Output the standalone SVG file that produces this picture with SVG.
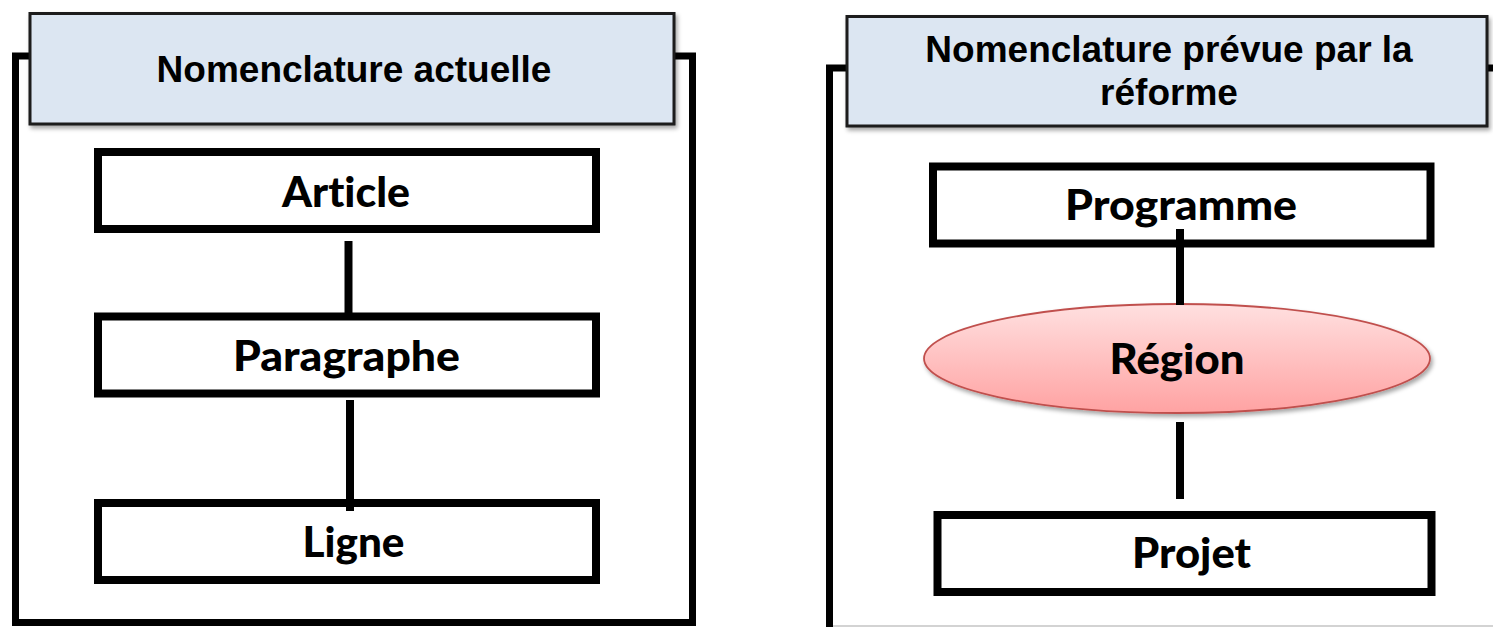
<svg xmlns="http://www.w3.org/2000/svg" width="1493" height="627" viewBox="0 0 1493 627">
  <defs>
    <filter id="shadow" x="-10%" y="-20%" width="120%" height="150%">
      <feDropShadow dx="2" dy="3" stdDeviation="2" flood-color="#000" flood-opacity="0.35"/>
    </filter>
    <linearGradient id="regionFill" x1="0" y1="0" x2="0" y2="1">
      <stop offset="0" stop-color="#ffe0e0"/>
      <stop offset="1" stop-color="#ffa2a2"/>
    </linearGradient>
    <style>
      .frame { fill: #fff; stroke: #000; stroke-width: 7; }
      .header { fill: #dce6f2; stroke: #1a1a1a; stroke-width: 3; filter: url(#shadow); }
      .header-text { font-family: "Liberation Sans", Arial, sans-serif; font-weight: 700; font-size: 37px; fill: #000; text-anchor: middle; }
      .box { fill: #fff; stroke: #000; stroke-width: 8; }
      .label { font-family: Lato, "Open Sans", sans-serif; font-weight: 900; font-size: 42px; fill: #000; text-anchor: middle; font-variant-ligatures: none; font-feature-settings: "liga" 0; }
      .link { stroke: #000; stroke-width: 8; fill: none; }
    </style>
  </defs>

  <rect width="1493" height="627" fill="#fff"/>

  <!-- Current nomenclature panel -->
  <g id="panel-actuelle">
    <rect class="frame" x="15.5" y="56" width="677" height="566.5"/>
    <rect class="header" x="30" y="13.5" width="644" height="110.5"/>
    <text class="header-text" x="354" y="81.5">Nomenclature actuelle</text>
  </g>

  <!-- Planned nomenclature panel (frame runs past the right and bottom edges) -->
  <g id="panel-reforme">
    <rect class="frame" x="829.5" y="68" width="720" height="600"/>
    <line x1="833" y1="626" x2="1493" y2="626" stroke="#c4c4c4" stroke-width="1.5"/>
    <rect class="header" x="847" y="16.5" width="640" height="109.5"/>
    <text class="header-text" x="1169" y="62">Nomenclature prévue par la</text>
    <text class="header-text" x="1169" y="105">réforme</text>
  </g>

  <g id="node-article">
    <rect class="box" x="98" y="152" width="498" height="77"/>
    <text class="label" x="346" y="207" textLength="128" lengthAdjust="spacingAndGlyphs">Article</text>
  </g>

  <g id="node-paragraphe">
    <rect class="box" x="98" y="316.5" width="498" height="77"/>
    <text class="label" x="346.5" y="370.5" textLength="227" lengthAdjust="spacingAndGlyphs">Paragraphe</text>
  </g>

  <g id="node-ligne">
    <rect class="box" x="98" y="503" width="498" height="77"/>
    <text class="label" x="353.5" y="557" textLength="102" lengthAdjust="spacingAndGlyphs">Ligne</text>
  </g>

  <g id="node-programme">
    <rect class="box" x="933" y="166.5" width="497.5" height="77"/>
    <text class="label" x="1181" y="220" textLength="232" lengthAdjust="spacingAndGlyphs">Programme</text>
  </g>

  <g id="node-region">
    <ellipse cx="1177" cy="358.5" rx="253" ry="54.5" fill="url(#regionFill)" stroke="#c0504d" stroke-width="1.8" filter="url(#shadow)"/>
    <text class="label" x="1177" y="374" textLength="135" lengthAdjust="spacingAndGlyphs">Région</text>
  </g>

  <g id="node-projet">
    <rect class="box" x="937.5" y="515" width="494" height="77"/>
    <text class="label" x="1191.5" y="568" textLength="119" lengthAdjust="spacingAndGlyphs">Projet</text>
  </g>

  <!-- Hierarchy links -->
  <g id="connectors">
    <line class="link" x1="348.5" y1="241" x2="348.5" y2="313"/>
    <line class="link" x1="350" y1="400" x2="350" y2="511"/>
    <line class="link" x1="1180" y1="229" x2="1180" y2="305"/>
    <line class="link" x1="1180" y1="422" x2="1180" y2="499"/>
  </g>
</svg>
